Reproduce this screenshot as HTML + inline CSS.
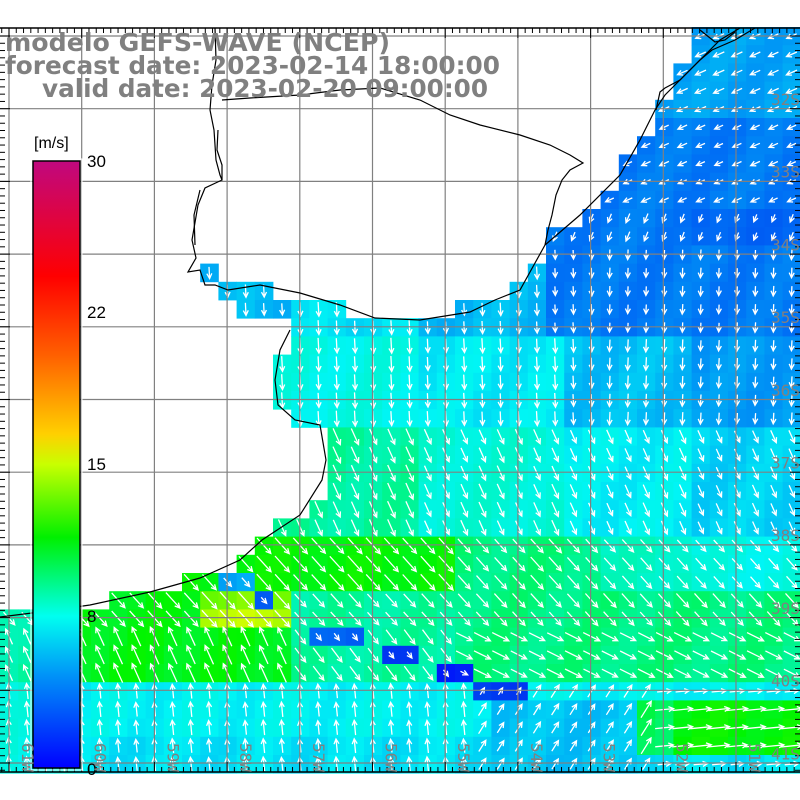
<!DOCTYPE html>
<html><head><meta charset="utf-8"><style>
html,body{margin:0;padding:0;background:#fff;}
svg{display:block;}
</style></head><body>
<svg id="s" width="800" height="800" xmlns="http://www.w3.org/2000/svg" font-family="Liberation Sans, sans-serif">
<defs>
<linearGradient id="cb" x1="0" y1="0" x2="0" y2="1">
<stop offset="0" stop-color="#c0087f"/>
<stop offset="0.19" stop-color="#ff0000"/>
<stop offset="0.32" stop-color="#ff6000"/>
<stop offset="0.45" stop-color="#ffd000"/>
<stop offset="0.5" stop-color="#c8ff00"/>
<stop offset="0.62" stop-color="#00f000"/>
<stop offset="0.75" stop-color="#00fff0"/>
<stop offset="0.85" stop-color="#0090f8"/>
<stop offset="1" stop-color="#0000ff"/>
</linearGradient>
</defs>
<g id="cells"></g>
<g id="arrows" stroke="#fff" stroke-width="1.3" fill="none"></g>
<g id="grid" stroke="#808080" stroke-width="1.2"></g>
<g fill="none" stroke="#000" stroke-width="1.2">
<path d="M215,28 L216,60 L212,85 L210,110 L214,130 L216,160 L220,175 L222,180 L205,188 L198,205 L192,240 L196,258 L188,272 L200,270 L205,285 L215,285 L228,290 L260,285 L300,293 L340,305 L375,318 L420,320 L470,312 L495,300 L520,290 L545,245"/>
<path d="M218,130 L217,150 L222,165 L222,180 M200,190 L194,215 L195,245"/>
<path d="M545,245 L580,215 L620,175 L640,140 L655,110 L665,95 L700,60 L720,40 L740,28"/>
<path d="M222,100 L250,98 L300,95 L340,90 L380,88 L420,100 L450,115 L480,125 L520,135 L550,145 L570,155 L583,163 L570,170 L562,180 L556,195 L552,215 L548,230 L545,245"/>
<path d="M656,110 L660,92 L665,88 L680,80 L700,60 L712,50 L735,40 L755,28"/>
<path d="M700,30 L715,42 L725,40 L735,32"/>
<path d="M290,330 L280,350 L275,380 L278,405 L295,420 L320,425 L326,460 L322,480 L300,515 L262,540 L240,560 L200,578 L150,592 L90,605 L40,612 L0,617"/>
</g>
<g id="frame"></g>
<rect x="33" y="161" width="47" height="607" fill="url(#cb)" stroke="#000" stroke-width="1.5"/>
<rect x="31" y="159" width="51" height="611" fill="none" stroke="#fff" stroke-width="1"/>
<g font-size="17" fill="#000">
<text x="34" y="148" font-size="16">[m/s]</text>
<text x="87" y="167">30</text>
<text x="87" y="318">22</text>
<text x="87" y="470">15</text>
<text x="87" y="622">8</text>
<text x="87" y="775">0</text>
</g>
<g font-size="25" font-weight="bold" fill="#808080" font-family="DejaVu Sans, sans-serif">
<text x="5" y="51" textLength="385" lengthAdjust="spacingAndGlyphs">modelo GEFS-WAVE (NCEP)</text>
<text x="5" y="74" textLength="495" lengthAdjust="spacingAndGlyphs">forecast date: 2023-02-14 18:00:00</text>
<text x="42" y="97" textLength="446" lengthAdjust="spacingAndGlyphs">valid date: 2023-02-20 09:00:00</text>
</g>
<g id="labels" font-size="16" fill="#808080" font-family="DejaVu Sans Mono, monospace"></g>
</svg>
<script>
var NS="http://www.w3.org/2000/svg";
function el(p,t,a){var e=document.createElementNS(NS,t);for(var k in a)e.setAttribute(k,a[k]);p.appendChild(e);return e;}
var poly=[[700,27],[800,27],[800,772],[0,772],[0,615],[90,605],[150,592],[200,578],[240,560],[262,540],[300,515],[320,490],[325,430],[295,420],[272,395],[280,370],[290,330],[270,315],[240,310],[215,300],[200,262],[220,262],[230,285],[300,295],[330,300],[370,318],[420,318],[470,305],[500,298],[525,285],[545,240],[580,215],[620,175],[640,140],[655,110],[680,60],[700,27]];
function inside(x,y){var c=false;for(var i=0,j=poly.length-1;i<poly.length;j=i++){var a=poly[i],b=poly[j];if((a[1]>y)!=(b[1]>y)&&x<(b[0]-a[0])*(y-a[1])/(b[1]-a[1])+a[0])c=!c;}return c;}
var cm=[[0,[0,0,255]],[3,[0,60,240]],[5,[0,110,245]],[6.5,[0,170,245]],[8,[0,245,245]],[9.5,[0,245,170]],[11.5,[0,245,0]],[13.5,[120,250,0]],[15,[220,255,0]]];
function cmap(s){if(s<=0)return"rgb(0,0,255)";for(var i=1;i<cm.length;i++){if(s<=cm[i][0]){var a=cm[i-1],b=cm[i],t=(s-a[0])/(b[0]-a[0]);var c=[0,1,2].map(function(k){return Math.round(a[1][k]+(b[1][k]-a[1][k])*t)});return"rgb("+c.join(",")+")";}}return"rgb(220,255,0)";}
function spd(x,y){
 if(y>628&&y<646&&x>305&&x<370)return 4.5;
 if(y>646&&y<664&&x>380&&x<420)return 2.5;
 if(y>664&&y<682&&x>432&&x<470)return 1.5;
 if(y>682&&y<700&&x>470&&x<525)return 3;
 if(y>700&&y<770&&x>500&&x<630)return 7;
 if(y>590&&y<612&&x>255&&x<275)return 4;
 if(y>575&&y<595&&x>215&&x<255)return 6.5;
 if(y>590&&y<630&&x>195&&x<285)return y<612?13.5:14.5;
 if(y<250&&x>500){if(y<120)return 6.3;if(x>700&&y>200)return 4.6;return 5.3;}
 if(y<330){if(x>540)return 5.3;if(x<300)return 6.8;if(x<420)return 7.6;return 6.8;}
 if(y<420){if(x<420)return 8.3;if(x<560)return 7.8;if(x<700)return 6.9;return 6.1;}
 if(y<540){if(x<420)return 9.6;if(x<560)return 8.6;if(x<700)return 7.9;return 7.3;}
 if(y<600){if(x<460)return 11.5;if(x<600)return 10;if(x<700)return 9;return 8.3;}
 if(y<690){if(x<80)return 9.5;if(x<300)return 11.3;if(x<450)return 9.6;return 10;}
 if(y>700&&y<760&&x>600)return x>680?11.5:10.5;
 if(x<80)return 8.3;
 if(y>745)return 7.6;
 return 8;
}
function dir(x,y){
 if(y<250&&x>500)return y<200?[-1,0.45]:[-0.4,1];
 if(y<420)return x>600?[-0.05,1]:[0.05,1];
 if(y<540)return[0.45,1];
 if(y<620)return[0.9,1];
 if(y<690){if(x<300)return[-0.45,-1];if(x<450)return[0.6,0.8];return[1,0.5];}
 if(x<480)return[-0.1,-1];
 if(x<650)return[0.5,-0.8];
 return[1,-0.1];
}
var cg=document.getElementById("cells"),ag=document.getElementById("arrows");
var d=18.2;
for(var r=0;r<41;r++)for(var c=0;c<44;c++){
 var x=c*d,y=27+r*d,cx=x+d/2,cy=y+d/2;
 if(cy>772||x>800)continue;
 if(!inside(cx,cy))continue;
 var s=spd(cx,cy)+0.3*Math.sin(c*1.3+r*0.7);
 el(cg,"rect",{x:x.toFixed(1),y:y.toFixed(1),width:d+0.4,height:d+0.4,fill:cmap(s)});
 var v=dir(cx,cy),n=Math.hypot(v[0],v[1]);var ux=v[0]/n,uy=v[1]/n;
 var L=Math.max(4,Math.min(11,s*0.9));
 var x1=cx-ux*L,y1=cy-uy*L,x2=cx+ux*L,y2=cy+uy*L;
 var h=5,px=-uy,py=ux;
 el(ag,"path",{d:"M"+x1.toFixed(1)+","+y1.toFixed(1)+"L"+x2.toFixed(1)+","+y2.toFixed(1)+"M"+(x2-ux*h+px*h*0.5).toFixed(1)+","+(y2-uy*h+py*h*0.5).toFixed(1)+"L"+x2.toFixed(1)+","+y2.toFixed(1)+"L"+(x2-ux*h-px*h*0.5).toFixed(1)+","+(y2-uy*h-py*h*0.5).toFixed(1)});
}
var g=document.getElementById("grid");
for(var i=0;i<11;i++){var X=9+i*72.7;el(g,"line",{x1:X,y1:28,x2:X,y2:772});}
for(var i=0;i<11;i++){var Y=36+i*72.7;el(g,"line",{x1:0,y1:Y,x2:800,y2:Y});}
var f=document.getElementById("frame");
el(f,"line",{x1:0,y1:28,x2:800,y2:28,stroke:"#000","stroke-width":1.5});
el(f,"line",{x1:0,y1:772,x2:800,y2:772,stroke:"#000","stroke-width":1.5});
for(var X=9-72.7;X<800;X+=7.27){if(X<0)continue;var big=Math.abs(((X-9)/72.7)-Math.round((X-9)/72.7))<0.05;var h=big?10:5;
 el(f,"line",{x1:X,y1:28,x2:X,y2:28+h,stroke:"#000"});el(f,"line",{x1:X,y1:772,x2:X,y2:772-h,stroke:"#000"});}
for(var Y=36;Y<772;Y+=7.27){var big=Math.abs(((Y-36)/72.7)-Math.round((Y-36)/72.7))<0.05;var h=big?10:5;
 el(f,"line",{x1:0,y1:Y,x2:h,y2:Y,stroke:"#000"});el(f,"line",{x1:800,y1:Y,x2:800-h,y2:Y,stroke:"#000"});}
var lg=document.getElementById("labels");
for(var i=0;i<10;i++){var t=el(lg,"text",{x:771,y:(105+i*72.7).toFixed(1)});t.textContent=(32+i)+"S";}
for(var i=0;i<11;i++){var X=9+i*72.7+13;var t=el(lg,"text",{transform:"translate("+X.toFixed(1)+",743) rotate(90)"});t.textContent=(61-i)+"W";}
</script>
</body></html>
